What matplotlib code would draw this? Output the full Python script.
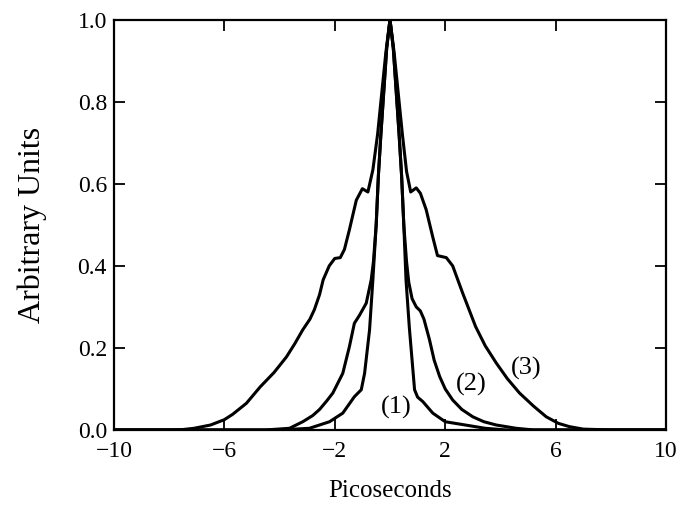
import matplotlib
matplotlib.use("Agg")
import matplotlib.pyplot as plt

plt.rcParams['font.family'] = ['Liberation Serif', 'DejaVu Serif']

# curve (1) - narrowest
x1 = [-10, -4, -2.92, -2.19, -1.71, -1.29, -1.04, -0.92, -0.74, -0.62, -0.5, -0.42,
      -0.33, -0.25, -0.12, 0, 0.12, 0.25, 0.33, 0.42, 0.5, 0.58, 0.7, 0.8, 0.89,
      1.0, 1.19, 1.55, 2.0, 2.73, 3.45, 4.2, 10]
y1 = [0, 0, 0.004, 0.02, 0.041, 0.081, 0.098, 0.138, 0.244, 0.366, 0.5, 0.62,
      0.72, 0.8, 0.93, 1.0, 0.93, 0.8, 0.72, 0.62, 0.5, 0.366, 0.25, 0.17, 0.098,
      0.08, 0.069, 0.041, 0.02, 0.012, 0.004, 0, 0]

# curve (2)
x2 = [-10, -4.5, -3.64, -3.16, -2.8, -2.55, -2.3, -2.07, -1.71, -1.47, -1.29, -1.1,
      -0.86, -0.68, -0.6, -0.5, -0.42, -0.33, -0.25, -0.12, 0, 0.12, 0.25, 0.33,
      0.42, 0.5, 0.6, 0.68, 0.8, 0.95, 1.1, 1.23, 1.43, 1.6, 1.8, 2.0, 2.27, 2.6,
      3.0, 3.4, 3.85, 4.57, 5.2, 10]
y2 = [0, 0, 0.004, 0.02, 0.035, 0.05, 0.07, 0.09, 0.138, 0.203, 0.26, 0.28,
      0.309, 0.366, 0.41, 0.5, 0.62, 0.72, 0.8, 0.93, 1.0, 0.93, 0.8, 0.72,
      0.62, 0.5, 0.41, 0.36, 0.32, 0.30, 0.29, 0.27, 0.22, 0.17, 0.13, 0.10, 0.073, 0.05,
      0.032, 0.02, 0.012, 0.004, 0, 0]

# curve (3) - widest
x3 = [-10, -8, -7.5, -7.1, -6.5, -6.0, -5.7, -5.2, -4.7, -4.2, -3.75, -3.45, -3.16,
      -2.9, -2.74, -2.55, -2.42, -2.2, -2.0, -1.8, -1.65, -1.47, -1.22, -1.0, -0.8,
      -0.62, -0.45, -0.3, -0.15, 0, 0.15, 0.3, 0.45, 0.6, 0.75, 0.95, 1.1, 1.31,
      1.55, 1.72, 2.04, 2.27, 2.63, 3.1, 3.45, 3.85, 4.25, 4.69, 5.2, 5.66, 6.1,
      6.5, 7.0, 8, 10]
y3 = [0, 0, 0.001, 0.004, 0.012, 0.025, 0.038, 0.065, 0.105, 0.14, 0.178, 0.21, 0.244,
      0.27, 0.293, 0.33, 0.366, 0.40, 0.418, 0.42, 0.44, 0.488, 0.56, 0.588, 0.58,
      0.634, 0.72, 0.82, 0.92, 1.0, 0.92, 0.82, 0.72, 0.63, 0.58, 0.59, 0.577, 0.537,
      0.47, 0.425, 0.42, 0.40, 0.334, 0.252, 0.205, 0.163, 0.125, 0.09, 0.058, 0.032, 0.016,
      0.008, 0.002, 0, 0]

labels = ['(1)', '(2)', '(3)']
label_pos = [(0.24, 0.054), (2.95, 0.11), (4.95, 0.151)]

xticks = [-10, -6, -2, 2, 6, 10]
yticks = [0.0, 0.2, 0.4, 0.6, 0.8, 1.0]

fig = plt.figure(figsize=(6.86, 5.18), dpi=100)
ax = fig.add_axes([0.166, 0.170, 0.805, 0.792])

for xs, ys in [(x1, y1), (x2, y2), (x3, y3)]:
    ax.plot(xs, ys, color='black', lw=2.2, solid_joinstyle='round')

for lab, (lx, ly) in zip(labels, label_pos):
    ax.text(lx, ly, lab, fontsize=19, ha='center', va='center')

ax.set_xlim(-10, 10)
ax.set_ylim(0, 1.0)
ax.set_xticks(xticks)
ax.set_xticklabels(['\u221210', '\u22126', '\u22122', '2', '6', '10'])
ax.set_yticks(yticks)
ax.set_yticklabels(['%.1f' % v for v in yticks])
ax.tick_params(direction='in', top=True, right=True, length=8, width=1.3,
               labelsize=17)
ax.tick_params(axis='x', pad=8)
ax.tick_params(axis='y', pad=5)
for s in ax.spines.values():
    s.set_linewidth(1.6)

ax.set_xlabel('Picoseconds', fontsize=18, labelpad=13)
ax.set_ylabel('Arbitrary Units', fontsize=23, labelpad=22)

fig.savefig('out.png', dpi=100)
